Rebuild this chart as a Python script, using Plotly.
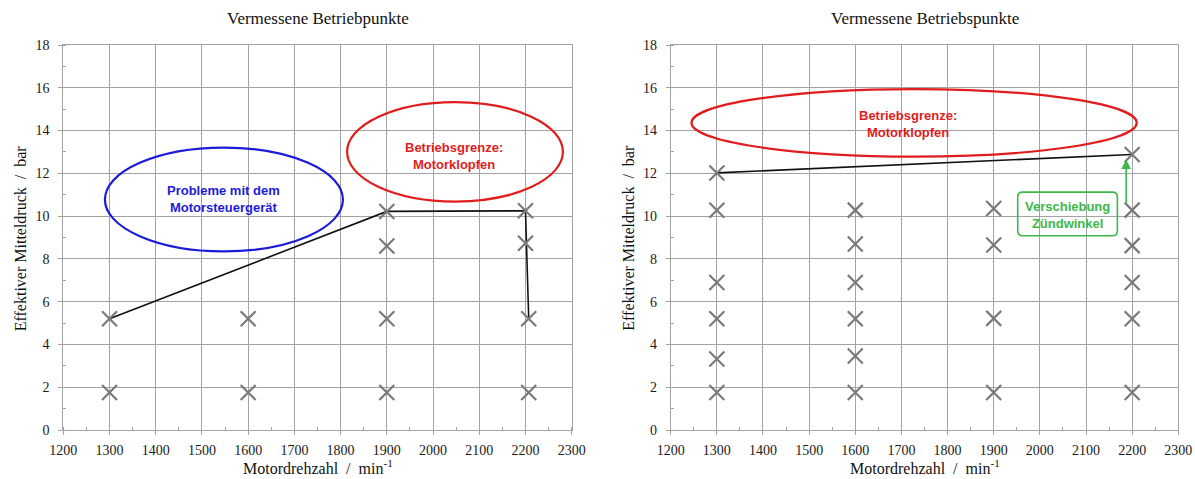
import plotly.graph_objects as go

# ---------------- data ----------------
left_x = [1300, 1300, 1600, 1600, 1900, 1900, 1900, 1900, 2200, 2200, 2207, 2207]
left_y = [1.75, 5.2, 1.75, 5.2, 1.75, 5.2, 8.6, 10.22, 10.25, 8.73, 5.2, 1.75]
left_line_x = [1300, 1900, 2200, 2207]
left_line_y = [5.2, 10.22, 10.25, 5.2]

right_x = [1300, 1300, 1300, 1300, 1300, 1300,
           1600, 1600, 1600, 1600, 1600, 1600,
           1900, 1900, 1900, 1900,
           2200, 2200, 2200, 2200, 2200, 2200]
right_y = [12.02, 10.27, 6.9, 5.2, 3.32, 1.75,
           10.28, 8.7, 6.9, 5.2, 3.46, 1.75,
           10.36, 8.65, 5.22, 1.75,
           12.88, 10.28, 8.62, 6.9, 5.2, 1.75]
right_line_x = [1300, 2200]
right_line_y = [12.02, 12.88]

x_ticks = [1200, 1300, 1400, 1500, 1600, 1700, 1800, 1900, 2000, 2100, 2200, 2300]
y_ticks = [0, 2, 4, 6, 8, 10, 12, 14, 16, 18]

title_text = ["Vermessene Betriebpunkte", "Vermessene Betriebspunkte"]
x_title = "Motordrehzahl  /  min<sup>-1</sup>"
y_title = "Effektiver Mitteldruck  /  bar"

# ---------------- style ----------------
W, H = 1195, 479
MT, MB = 45, 49
PH = H - MT - MB
SERIF = "Liberation Serif"
SANS = "Liberation Sans"
GRID = "#a3a3a3"
MARK = "#7a7a7a"
BLUE = "#1c1cd8"
RED = "#e01c1c"
GREEN = "#3cb84a"
NOTE_SIZE = 13

dom_left = [63.3 / W, 571.7 / W]
dom_right = [670.7 / W, 1178.3 / W]


def py(pixel_y):
    """pixel row of the figure -> paper (plot-area) coordinate"""
    return (H - MB - pixel_y) / PH


fig = go.Figure()

marker_style = dict(symbol="x-thin", size=15, line=dict(color=MARK, width=2.2), color=MARK)

fig.add_trace(go.Scatter(x=left_line_x, y=left_line_y, mode="lines",
                         line=dict(color="#111111", width=1.6), xaxis="x", yaxis="y",
                         showlegend=False, hoverinfo="skip"))
fig.add_trace(go.Scatter(x=left_x, y=left_y, mode="markers", marker=marker_style,
                         xaxis="x", yaxis="y", showlegend=False))
fig.add_trace(go.Scatter(x=right_line_x, y=right_line_y, mode="lines",
                         line=dict(color="#111111", width=1.6), xaxis="x2", yaxis="y2",
                         showlegend=False, hoverinfo="skip"))
fig.add_trace(go.Scatter(x=right_x, y=right_y, mode="markers", marker=marker_style,
                         xaxis="x2", yaxis="y2", showlegend=False))

tickfont = dict(family=SERIF, size=14, color="#1a1a1a")


def xa(domain, anchor):
    return dict(domain=domain, anchor=anchor, range=[1200, 2300], tickvals=x_ticks,
                showgrid=True, gridcolor=GRID, gridwidth=1, zeroline=False,
                showline=True, linecolor=GRID, linewidth=1, mirror=True,
                ticks="outside", ticklen=4, tickcolor=GRID, ticklabelstandoff=3,
                minor=dict(dtick=50, ticks="inside", ticklen=3, tickcolor=GRID, showgrid=False),
                tickfont=tickfont, automargin=False, fixedrange=True)


def ya(anchor):
    return dict(domain=[0, 1], anchor=anchor, range=[0, 18], tickvals=y_ticks,
                showgrid=True, gridcolor=GRID, gridwidth=1, zeroline=False,
                showline=True, linecolor=GRID, linewidth=1, mirror=True,
                ticks="outside", ticklen=4, tickcolor=GRID, ticklabelstandoff=6,
                minor=dict(dtick=1, ticks="inside", ticklen=3, tickcolor=GRID, showgrid=False),
                tickfont=tickfont, automargin=False, fixedrange=True)


shapes = [
    dict(type="circle", xref="x", yref="y", x0=1290, x1=1805, y0=8.35, y1=13.2,
         line=dict(color=BLUE, width=2.2)),
    dict(type="circle", xref="x", yref="y", x0=1814, x1=2281, y0=10.68, y1=15.33,
         line=dict(color=RED, width=2.2)),
    dict(type="circle", xref="x2", yref="y2", x0=1245, x1=2210, y0=12.78, y1=15.94,
         line=dict(color=RED, width=2.2)),
]

# rounded rectangle for green box (data coords of right axes)
bx0, bx1, by0, by1 = 1952, 2168, 9.08, 11.12
rx, ry = 11, 0.24
path = (f"M {bx0+rx},{by0} L {bx1-rx},{by0} Q {bx1},{by0} {bx1},{by0+ry} "
        f"L {bx1},{by1-ry} Q {bx1},{by1} {bx1-rx},{by1} L {bx0+rx},{by1} "
        f"Q {bx0},{by1} {bx0},{by1-ry} L {bx0},{by0+ry} Q {bx0},{by0} {bx0+rx},{by0} Z")
shapes.append(dict(type="path", xref="x2", yref="y2", path=path,
                   line=dict(color=GREEN, width=1.6), fillcolor="rgba(255,255,255,0)"))

annotations = [
    dict(x=1546, y=10.8, xref="x", yref="y", showarrow=False,
         text="<b>Probleme mit dem<br>Motorsteuergerät</b>",
         font=dict(family=SANS, size=NOTE_SIZE, color=BLUE)),
    dict(x=2046, y=12.82, xref="x", yref="y", showarrow=False,
         text="<b>Betriebsgrenze:<br>Motorklopfen</b>",
         font=dict(family=SANS, size=NOTE_SIZE, color=RED)),
    dict(x=1715, y=14.3, xref="x2", yref="y2", showarrow=False,
         text="<b>Betriebsgrenze:<br>Motorklopfen</b>",
         font=dict(family=SANS, size=NOTE_SIZE, color=RED)),
    dict(x=2060, y=10.05, xref="x2", yref="y2", showarrow=False,
         text="<b>Verschiebung<br>Zündwinkel</b>",
         font=dict(family=SANS, size=NOTE_SIZE, color=GREEN)),
    dict(x=2187, y=12.65, xref="x2", yref="y2", ax=2187, ay=10.5, axref="x2", ayref="y2",
         showarrow=True, arrowhead=2, arrowsize=1.2, arrowwidth=1.6, arrowcolor=GREEN, text=""),
]

for dom, t in zip([dom_left, dom_right], title_text):
    cx = (dom[0] + dom[1]) / 2
    annotations.append(dict(x=cx, y=py(19), xref="paper", yref="paper", showarrow=False,
                            text=t, font=dict(family=SERIF, size=17, color="#111111"),
                            xanchor="center", yanchor="middle"))
    annotations.append(dict(x=cx, y=py(467), xref="paper", yref="paper", showarrow=False,
                            text=x_title, font=dict(family=SERIF, size=16, color="#111111"),
                            xanchor="center", yanchor="middle"))
    annotations.append(dict(x=dom[0] - 43 / W, y=py(238), xref="paper", yref="paper",
                            showarrow=False, text=y_title, textangle=-90,
                            font=dict(family=SERIF, size=16, color="#111111"),
                            xanchor="center", yanchor="middle"))

fig.update_layout(
    width=W, height=H,
    margin=dict(l=0, r=0, t=MT, b=MB),
    paper_bgcolor="white", plot_bgcolor="white",
    xaxis=xa(dom_left, "y"), yaxis=ya("x"),
    xaxis2=xa(dom_right, "y2"), yaxis2=ya("x2"),
    shapes=shapes, annotations=annotations,
    showlegend=False,
)

fig.write_html("out.html")
